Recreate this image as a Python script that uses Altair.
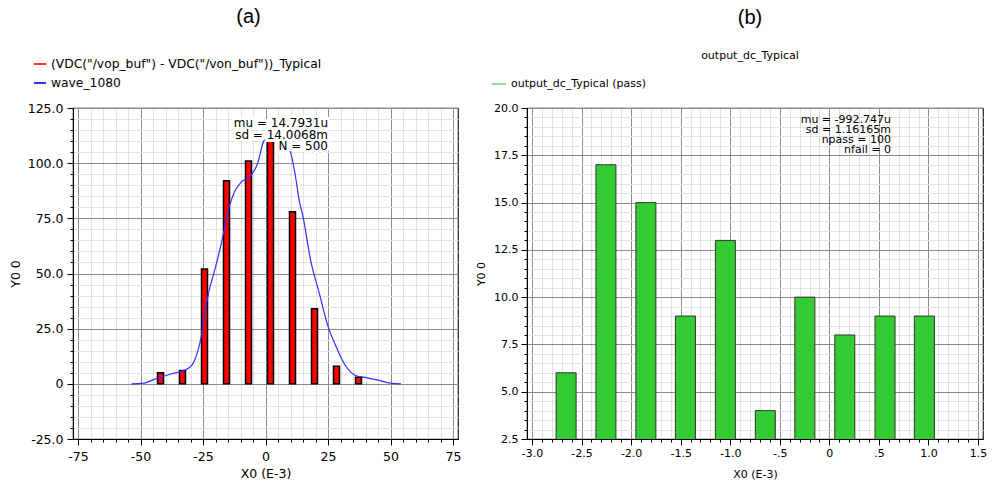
import altair as alt
import pandas as pd

# ---------------- Panel (a) data ----------------
a_series_bar = '(VDC("/vop_buf") - VDC("/von_buf"))_Typical'
a_series_line = "wave_1080"
a_bin_x = [-42.0, -33.2, -24.4, -15.6, -6.8, 2.0, 10.8, 19.6, 28.4, 37.2]
a_count = [5, 6, 52, 92, 101, 110, 78, 34, 8, 3]
wave_x = [-53.6, -48.8, -43.6, -37.1, -32.5, -29.3, -27.3, -25.6, -24.3, -22.7,
          -20.2, -17.6, -15.0, -12.4, -9.7, -5.9, -3.2, -0.7, 2.5, 6.0,
          10.0, 11.7, 13.6, 14.9, 18.2, 21.4, 25.3, 28.0, 31.9, 35.8,
          39.7, 44.9, 50.0, 54.2]
wave_y = [0, 0.3, 2.4, 4.7, 6.1, 8.7, 14, 22, 32, 41.6,
          52, 64, 78, 87, 91.4, 94.4, 99.7, 110, 113, 112,
          105, 96, 82.4, 76.3, 55.2, 41.6, 25, 17.5, 8.4, 3.9,
          2.9, 1.7, 0.3, 0]
a_stats = ["mu = 14.7931u", "sd = 14.0068m", "N = 500"]
a_xticks = list(range(-75, 76, 5))
a_yticks = list(range(-25, 126, 5))

# ---------------- Panel (b) data ----------------
b_series = "output_dc_Typical (pass)"
b_bin_x = [-2.656, -2.254, -1.851, -1.452, -1.049, -0.646, -0.247, 0.156, 0.562, 0.959]
b_count = [6, 17, 15, 9, 13, 4, 10, 8, 9, 9]
b_stats = ["mu = -992.747u", "sd = 1.16165m", "npass = 100", "nfail = 0"]
b_xticks = [round(-3.0 + 0.1 * i, 1) for i in range(46)]
b_yticks = [round(2.5 + 0.5 * i, 1) for i in range(36)]

FONT = "DejaVu Sans"
MAJOR = "#8c8c8c"
MINOR = "#e2e2e2"


def cond(test, major, minor):
    return {"condition": {"test": test, "value": major}, "value": minor}


def make_axis(values, test, label_expr, title, size, orient, lpad, tpad):
    return alt.Axis(
        values=values, labelExpr=label_expr, title=title, orient=orient,
        grid=True, gridColor=cond(test, MAJOR, MINOR), gridWidth=1,
        tickSize=cond(test, 6, 3), tickColor="black", domainColor="black",
        labelFont=FONT, labelFontSize=size, labelColor="black", labelOverlap=False,
        labelPadding=lpad, titleFont=FONT, titleFontSize=size, titleFontWeight="normal",
        titleColor="black", titlePadding=tpad, labelBound=False, labelFlush=False,
    )


a_xtest = "datum.value % 25 === 0"
a_ytest = "datum.value % 25 === 0"
a_xaxis = make_axis(a_xticks, a_xtest,
                    f"{a_xtest} ? '' + datum.value : ''", "X0 (E-3)", 12.5, "bottom", 5, 5)
a_yaxis = make_axis(a_yticks, a_ytest,
                    f"{a_ytest} ? (datum.value === 0 ? '0' : (datum.value < 0 ? '-' : '') + format(abs(datum.value), '.1f')) : ''",
                    "Y0 0", 12.5, "left", 4, 5)

b_xtest = "abs(datum.value * 2 - round(datum.value * 2)) < 1e-6"
b_ytest = "abs(datum.value / 2.5 - round(datum.value / 2.5)) < 1e-6"
b_xaxis = make_axis(b_xticks, b_xtest,
                    f"{b_xtest} ? (abs(datum.value) < 1e-9 ? '0' : (abs(abs(datum.value) - 0.5) < 1e-9 ? (datum.value < 0 ? '-.5' : '.5') : (datum.value < 0 ? '-' : '') + format(abs(datum.value), '.1f'))) : ''",
                    "X0 (E-3)", 11, "bottom", 2, 10)
b_yaxis = make_axis(b_yticks, b_ytest,
                    f"{b_ytest} ? format(datum.value, '.1f') : ''",
                    "Y0 0", 11, "left", 3, 7)

df_a = pd.DataFrame({"x": a_bin_x, "count": a_count})
df_w = pd.DataFrame({"x": wave_x, "y": wave_y, "series": [a_series_line] * len(wave_x)})
df_as = pd.DataFrame({"t": ["\n".join(a_stats)]})
df_b = pd.DataFrame({"x": b_bin_x, "count": b_count, "series": [b_series] * len(b_bin_x)})
df_bs = pd.DataFrame({"t": ["\n".join(b_stats)]})

ax_scale = alt.Scale(domain=[-75, 75], nice=False, zero=False)
ay_scale = alt.Scale(domain=[-25, 125], nice=False, zero=False)

bars_a = alt.Chart(df_a).mark_bar(size=6, fill="#ff0000", stroke="black", strokeWidth=1.5).encode(
    x=alt.X("x:Q", scale=ax_scale, axis=a_xaxis),
    y=alt.Y("count:Q", scale=ay_scale, axis=a_yaxis),
)
line_a = alt.Chart(df_w).mark_line(strokeWidth=1.2, interpolate="monotone").encode(
    x=alt.X("x:Q", scale=ax_scale, axis=a_xaxis),
    y=alt.Y("y:Q", scale=ay_scale, axis=a_yaxis),
    color=alt.Color("series:N",
                    scale=alt.Scale(domain=[a_series_bar, a_series_line], range=["#ff3030", "#3030ff"]),
                    legend=alt.Legend(title=None, orient="none", legendX=-40, legendY=-51,
                                      symbolType="stroke", symbolSize=144, symbolStrokeWidth=2,
                                      labelFont=FONT, labelFontSize=12.3, labelColor="black",
                                      rowPadding=5, labelLimit=500, direction="vertical")),
)
halo_a = alt.Chart(df_as).mark_text(lineBreak="\n", align="right", baseline="top", font=FONT,
                                    fontSize=12, lineHeight=11.5, stroke="white", strokeWidth=6,
                                    fill="white").encode(x=alt.value(255), y=alt.value(10), text="t:N")
text_a = alt.Chart(df_as).mark_text(lineBreak="\n", align="right", baseline="top", font=FONT,
                                    fontSize=12, lineHeight=11.5, fill="black").encode(
    x=alt.value(255), y=alt.value(10), text="t:N")

panel_a = alt.layer(bars_a, line_a, halo_a, text_a).properties(
    width=385, height=331,
    title=alt.TitleParams("(a)", font="Liberation Sans", fontSize=20, fontWeight="normal",
                          anchor="middle", dx=-17, offset=30, color="black"),
)

bx_scale = alt.Scale(domain=[-3.0, 1.5], nice=False, zero=False)
by_scale = alt.Scale(domain=[2.5, 20], nice=False, zero=False)

bars_b = alt.Chart(df_b).mark_bar(size=20, stroke="#333333", strokeWidth=1, clip=True).encode(
    x=alt.X("x:Q", scale=bx_scale, axis=b_xaxis),
    y=alt.Y("count:Q", scale=by_scale, axis=b_yaxis),
    color=alt.Color("series:N", scale=alt.Scale(domain=[b_series], range=["#33cc33"]),
                    legend=alt.Legend(title=None, orient="none", legendX=-36, legendY=-32,
                                      symbolType="stroke", symbolSize=196, symbolStrokeWidth=2,
                                      symbolStrokeColor="#90e090", symbolFillColor="#90e090",
                                      labelFont=FONT, labelFontSize=11, labelColor="black",
                                      labelLimit=500)),
)
text_b = alt.Chart(df_bs).mark_text(lineBreak="\n", align="right", baseline="top", font=FONT,
                                    fontSize=11, lineHeight=10, fill="black").encode(
    x=alt.value(364), y=alt.value(5.5), text="t:N")

panel_b = alt.layer(bars_b, text_b).properties(
    width=456, height=331,
    title=alt.TitleParams("(b)", subtitle="output_dc_Typical", font="Liberation Sans", fontSize=20,
                          fontWeight="normal", anchor="middle", dx=-5, offset=15, color="black",
                          subtitleFont=FONT, subtitleFontSize=11, subtitleColor="black",
                          subtitlePadding=22),
)

chart = alt.hconcat(panel_a, panel_b, spacing=69, bounds="flush").resolve_scale(
    color="independent"
).properties(
    padding={"left": 8, "top": 6, "right": 0, "bottom": 0},
    background="white",
).configure_view(stroke="#222222", strokeWidth=1.2)

chart.save("out.html", embed_options={"renderer": "svg", "actions": False})
